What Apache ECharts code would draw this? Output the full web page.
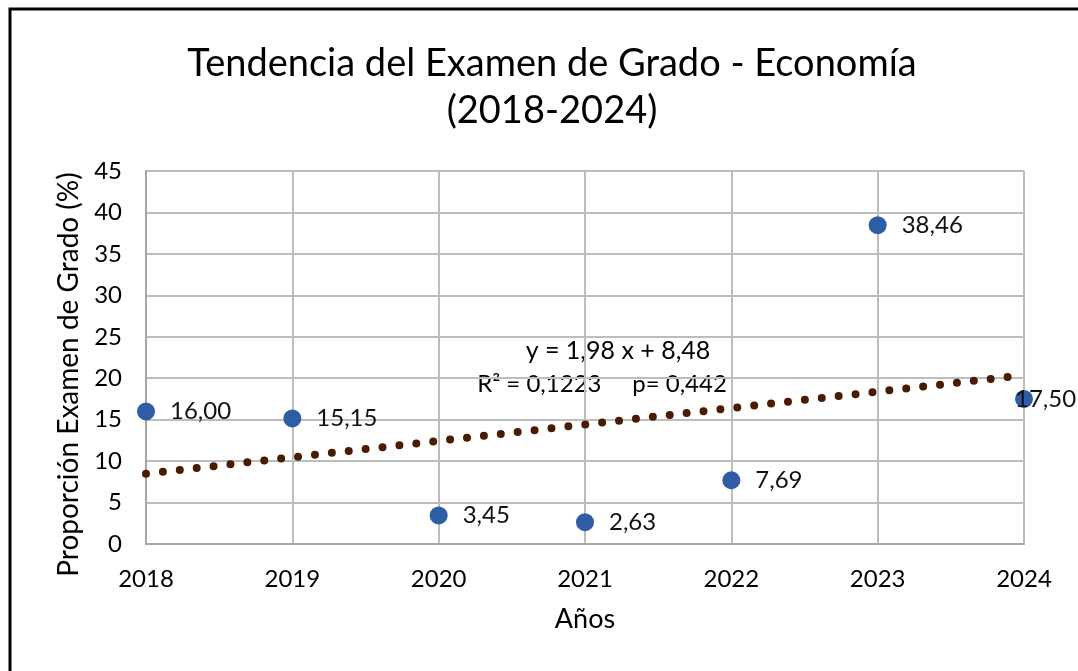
<!DOCTYPE html>
<html>
<head>
<meta charset="utf-8">
<script src="https://cdn.jsdelivr.net/npm/echarts@6/dist/echarts.min.js"></script>
<style>
  html, body { margin: 0; padding: 0; background: #fff; overflow: hidden; }
  #chart { width: 1078px; height: 671px; }
</style>
</head>
<body>
<div id="chart"></div>
<script>
// data
const years = [2018, 2019, 2020, 2021, 2022, 2023, 2024];
const proportions = [16.00, 15.15, 3.45, 2.63, 7.69, 38.46, 17.50];
const trendYears = [2018, 2024];
const trendValues = [8.48, 20.36];
const yTicks = [0, 5, 10, 15, 20, 25, 30, 35, 40, 45];

const FONT = 'Lato, "Noto Sans", sans-serif';
const chart = echarts.init(document.getElementById('chart'));

const fmt = (v) => v.toFixed(2).replace('.', ',');

const points = years.map((y, i) => {
  const item = { value: [y, proportions[i]] };
  // last label sits over its marker in the original
  if (i === years.length - 1) item.label = { offset: [-33, 0] };
  return item;
});

chart.setOption({
  animation: false,
  backgroundColor: '#fff',
  title: {
    text: 'Tendencia del Examen de Grado - Economía\n(2018-2024)',
    left: 547,
    top: 35,
    textAlign: 'center',
    textStyle: {
      fontFamily: FONT,
      fontSize: 38,
      fontWeight: 'normal',
      color: '#000',
      lineHeight: 47
    }
  },
  grid: { left: 146, right: 54, top: 171, bottom: 127 },
  xAxis: {
    type: 'value',
    min: years[0],
    max: years[years.length - 1],
    interval: 1,
    name: 'Años',
    nameLocation: 'middle',
    nameGap: 62,
    nameTextStyle: { fontFamily: FONT, fontSize: 27, color: '#000' },
    axisLine: { lineStyle: { color: '#a6a6a6', width: 2 } },
    axisTick: { show: false },
    axisLabel: {
      margin: 23,
      fontFamily: FONT,
      fontSize: 24,
      color: '#000',
      formatter: (v) => String(v)
    },
    splitLine: { show: true, lineStyle: { color: '#bdbdbd', width: 2 } }
  },
  yAxis: {
    type: 'value',
    min: yTicks[0],
    max: yTicks[yTicks.length - 1],
    interval: 5,
    name: 'Proporción Examen de Grado (%)',
    nameLocation: 'middle',
    nameGap: 60,
    nameTextStyle: { fontFamily: FONT, fontSize: 28, color: '#000', padding: [0, 34, 0, 0] },
    axisLine: { show: true, lineStyle: { color: '#a6a6a6', width: 2 } },
    axisTick: { show: false },
    axisLabel: { margin: 24, fontFamily: FONT, fontSize: 24, color: '#000' },
    splitLine: { show: true, lineStyle: { color: '#bdbdbd', width: 2 } }
  },
  graphic: [
    {
      type: 'rect',
      shape: { x: 10, y: 9, width: 1200, height: 800 },
      style: { fill: 'none', stroke: '#000', lineWidth: 3 },
      silent: true
    },
    {
      type: 'text',
      x: 618, y: 351,
      style: {
        text: 'y = 1,98 x + 8,48',
        font: '25px ' + FONT, fill: '#000',
        textAlign: 'center', textVerticalAlign: 'middle', verticalAlign: 'middle'
      }
    },
    {
      type: 'text',
      x: 602, y: 384,
      style: {
        text: 'R² = 0,1223     p= 0,442',
        font: '24px ' + FONT, fill: '#000',
        textAlign: 'center', textVerticalAlign: 'middle', verticalAlign: 'middle'
      }
    }
  ],
  series: [
    {
      type: 'line',
      data: trendYears.map((y, i) => [y, trendValues[i]]),
      symbol: 'none',
      z: 2,
      lineStyle: { color: '#4a1a02', width: 8, type: [0, 17], cap: 'round' }
    },
    {
      type: 'scatter',
      data: points,
      symbolSize: 18,
      z: 3,
      itemStyle: { color: '#2e5da5', opacity: 1 },
      label: {
        show: true,
        position: 'right',
        distance: 15,
        fontFamily: FONT,
        fontSize: 24,
        color: '#111',
        formatter: (p) => fmt(p.value[1])
      }
    }
  ]
});
</script>
</body>
</html>
